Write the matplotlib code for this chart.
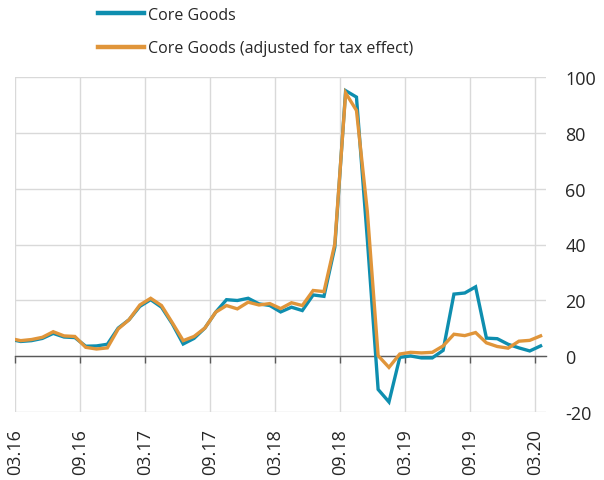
import numpy as np
import matplotlib
matplotlib.use("Agg")
import matplotlib.pyplot as plt

plt.rcParams["font.family"] = ["Open Sans", "DejaVu Sans"]
plt.rcParams["axes.unicode_minus"] = False

# monthly values, 02.16 .. 03.20 (first month sits just left of the axis)
core_goods = [
    6.0, 5.2, 5.5, 6.3, 8.1, 6.8, 6.6, 3.5, 3.6, 4.2,
    10.0, 13.0, 17.8, 20.2, 17.5, 11.5, 4.3, 6.3, 10.0, 15.7,
    20.2, 19.9, 20.7, 18.7, 18.1, 15.8, 17.5, 16.3, 21.9, 21.4,
    39.0, 95.2, 92.9, 42.0, -12.0, -16.5, -0.5, 0.0, -0.7, -0.7,
    2.0, 22.2, 22.6, 24.8, 6.4, 6.2, 4.2, 2.9, 1.8, 3.6,
]
core_goods_adj = [
    6.3, 5.5, 5.9, 6.7, 8.7, 7.2, 7.0, 3.1, 2.5, 2.9,
    9.7, 13.0, 18.3, 20.7, 18.1, 11.9, 5.5, 7.0, 10.0, 15.7,
    18.1, 16.9, 19.3, 18.3, 18.8, 17.0, 19.1, 18.1, 23.5, 23.1,
    40.2, 94.4, 88.1, 52.0, 0.1, -4.1, 0.7, 1.3, 1.1, 1.3,
    3.6, 7.8, 7.3, 8.4, 4.7, 3.4, 2.8, 5.3, 5.6, 7.2,
]
tick_labels = ["03.16", "09.16", "03.17", "09.17", "03.18",
               "09.18", "03.19", "09.19", "03.20"]
series_names = ["Core Goods", "Core Goods (adjusted for tax effect)"]

blue = "#0E8EAF"
orange = "#E0953A"
grid_col = "#D9D9D9"
text_col = "#262626"

x = np.arange(len(core_goods))
# ticks sit on month boundaries, points in the middle of each month
tick_pos = np.arange(1, len(core_goods), 6) - 0.5

fig = plt.figure(figsize=(6.04, 4.81), dpi=100)
ax = fig.add_axes([15.3 / 604, 1 - 412.7 / 481, (546 - 15.3) / 604, (412.7 - 78.3) / 481])

l1, = ax.plot(x, core_goods, color=blue, lw=2.4, solid_joinstyle="miter", zorder=3)
l2, = ax.plot(x, core_goods_adj, color=orange, lw=2.4, solid_joinstyle="miter", zorder=4)

ax.set_xlim(0.5, len(core_goods) - 0.5)
ax.set_ylim(-20, 100)
ax.set_yticks(np.arange(-20, 101, 20))
ax.set_xticks(tick_pos)
ax.grid(True, color=grid_col, lw=1.0, zorder=0)
ax.set_axisbelow(True)

for side in ["top", "right", "left"]:
    ax.spines[side].set_visible(False)
ax.spines["bottom"].set_position(("data", 0))
ax.spines["bottom"].set_color("#595959")
ax.spines["bottom"].set_linewidth(1.0)
ax.spines["bottom"].set_zorder(2)
ax.tick_params(axis="x", direction="out", length=5, width=1.0,
               color="#595959", labelbottom=False)

ax.yaxis.tick_right()
ax.tick_params(axis="y", length=0, pad=14, labelsize=13, labelcolor=text_col)
for lab in ax.get_yticklabels():
    lab.set_horizontalalignment("left")

# date labels along the bottom edge of the plot
sec = ax.secondary_xaxis("bottom")
sec.set_xticks(tick_pos, tick_labels)
sec.spines["bottom"].set_visible(False)
sec.tick_params(length=0, pad=12, labelsize=13, labelcolor=text_col,
                labelrotation=90)

fig.legend([l1, l2], series_names, loc="upper left",
           bbox_to_anchor=(98 / 604, 1 - 8 / 481), frameon=False,
           fontsize=11.5, handlelength=2.85, handletextpad=0.3,
           labelspacing=1.07, borderpad=0.0, borderaxespad=0.0,
           labelcolor=text_col)
for h in fig.legends[0].legend_handles:
    h.set_linewidth(3.2)

fig.savefig("out.png", dpi=100)
